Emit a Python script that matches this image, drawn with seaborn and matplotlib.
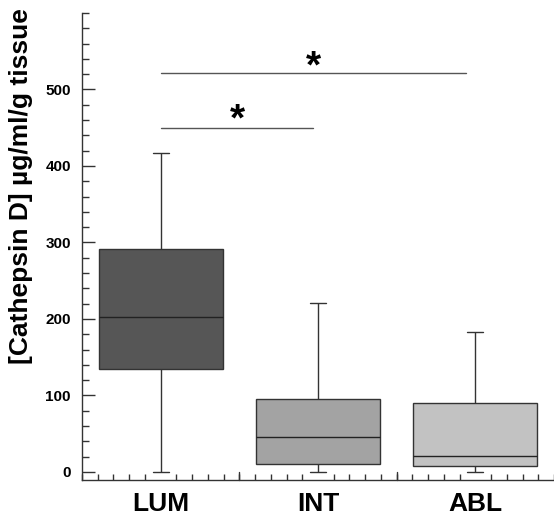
import numpy as np
import pandas as pd
import matplotlib
matplotlib.use("Agg")
import matplotlib.pyplot as plt
from matplotlib.ticker import MultipleLocator
import seaborn as sns

# ---- data ----
groups = ["LUM", "INT", "ABL"]
# five-number summaries: min, Q1, median, Q3, max
lum_vals = [0, 135, 202, 291, 417]
int_vals = [0, 10, 46, 96, 221]
abl_vals = [0, 8, 21, 90, 183]
box_colors = ["#565656", "#a3a3a3", "#c2c2c2"]
y_ticks = [0, 100, 200, 300, 400, 500]
ylabel = "[Cathepsin D] µg/ml/g tissue"
# significance bars: (x start, x end, y level, star x, star y)
sig_x0 = [0.0, 0.0]
sig_x1 = [0.97, 1.94]
sig_y = [449, 522]
star_x = [0.49, 0.97]
star_y = [459, 529]

df = pd.DataFrame({
    "group": np.repeat(groups, 5),
    "value": lum_vals + int_vals + abl_vals,
})

sns.set_theme(style="ticks")
plt.rcParams["font.family"] = ["Liberation Sans", "DejaVu Sans"]
plt.rcParams["text.color"] = "black"
plt.rcParams["xtick.labelcolor"] = "black"
plt.rcParams["ytick.labelcolor"] = "black"
plt.rcParams["axes.labelcolor"] = "black"

fig = plt.figure(figsize=(5.54, 5.18), dpi=100)
ax = fig.add_axes([0.148, 0.0734, 0.852, 0.9016])

edge = "#333333"
sns.boxplot(data=df, x="group", y="value", order=groups, hue="group",
            palette=box_colors, legend=False, whis=(0, 100), width=0.79,
            linewidth=1.0, linecolor=edge, capwidths=0.1,
            medianprops=dict(color="#222222", linewidth=1.0),
            ax=ax)

for x0, x1, yy in zip(sig_x0, sig_x1, sig_y):
    ax.plot([x0, x1], [yy, yy], color="#555555", lw=1.0)
for sx, sy in zip(star_x, star_y):
    ax.text(sx, sy, "*", ha="center", va="center", fontsize=28,
            fontweight="bold", color="black")

ax.set_xlim(-0.5, 2.5)
ax.set_ylim(-10.5, 600)
ax.set_yticks(y_ticks)
ax.yaxis.set_minor_locator(MultipleLocator(20))
ax.set_xticks([0, 1, 2])
ax.set_xticklabels(groups, fontsize=19, fontweight="bold", color="black")
ax.xaxis.set_minor_locator(MultipleLocator(0.1))
ax.tick_params(axis="x", which="major", length=0, pad=9, labelcolor="black")
ax.tick_params(axis="y", which="major", direction="in", length=9,
               width=1, color=edge, labelsize=11, pad=8, labelcolor="black")
ax.tick_params(axis="y", which="minor", direction="in", length=5,
               width=1, color=edge)
ax.tick_params(axis="x", which="minor", direction="in", length=4,
               width=1, color=edge)
for lbl in ax.get_yticklabels():
    lbl.set_fontweight("bold")
# longer inward ticks at group boundaries
for xb in [0.5, 1.5]:
    ax.plot([xb, xb], [-10.5, 0.3], color=edge, lw=1.0, clip_on=False)

ax.set_xlabel("")
ax.set_ylabel(ylabel, fontsize=19, fontweight="bold", color="black")
ax.yaxis.set_label_coords(21 / 554, (518 - 186) / 518, transform=fig.transFigure)
ax.yaxis.label.set_va("center")
sns.despine(ax=ax)
for s in ["left", "bottom"]:
    ax.spines[s].set_color(edge)
    ax.spines[s].set_linewidth(1.0)

fig.savefig("out.png", dpi=100)
